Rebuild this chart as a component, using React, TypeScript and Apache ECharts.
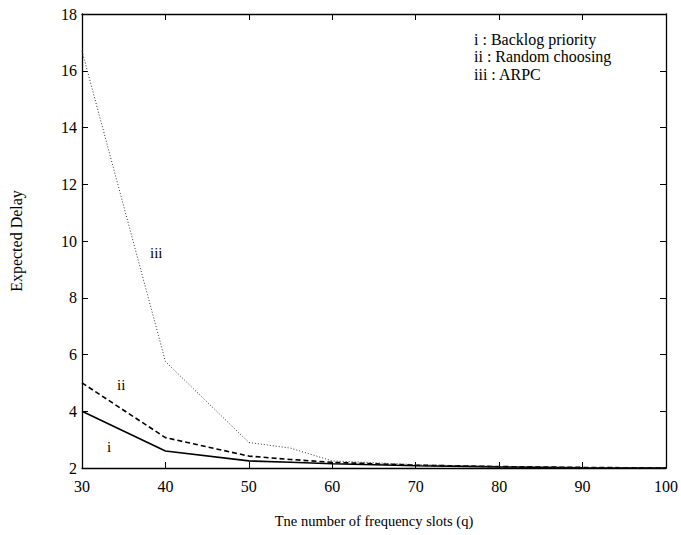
import React, { useEffect, useRef } from "react";
import * as echarts from "echarts";

const slots = [30, 40, 50, 55, 60, 70, 80, 90, 100];
const backlogPriority = [4.0, 2.6, 2.25, 2.2, 2.15, 2.08, 2.04, 2.01, 2.0];
const randomChoosing = [5.0, 3.07, 2.42, 2.3, 2.2, 2.1, 2.05, 2.02, 2.0];
const arpc = [16.7, 5.75, 2.9, 2.7, 2.25, 2.12, 2.05, 2.02, 2.0];
const legendLines = ["i : Backlog priority", "ii : Random choosing", "iii : ARPC"];

const FONT = "Liberation Serif";

export default function App() {
  const ref = useRef<HTMLDivElement>(null);
  useEffect(() => {
    if (!ref.current) return;
    const chart = echarts.init(ref.current, undefined, { renderer: "svg" });
    const mk = (v: number[]) => slots.map((x, i) => [x, v[i]]);
    const axisCommon = {
      axisLine: { show: true, lineStyle: { color: "#000", width: 1.3 } },
      axisTick: { show: true, inside: true, length: 6, lineStyle: { color: "#000" } },
      splitLine: { show: false },
    };
    chart.setOption({
      animation: false,
      backgroundColor: "#fff",
      textStyle: { fontFamily: FONT },
      grid: { left: 82, right: 13, top: 14, bottom: 67 },
      xAxis: [
        {
          type: "value",
          min: 30,
          max: 100,
          interval: 10,
          ...axisCommon,
          axisLabel: { color: "#000", fontSize: 16, fontFamily: FONT, margin: 10 },
          name: "Tne number of frequency slots (q)",
          nameLocation: "middle",
          nameGap: 45,
          nameTextStyle: { color: "#000", fontSize: 14.5, fontFamily: FONT },
        },
        {
          type: "value",
          position: "top",
          min: 30,
          max: 100,
          interval: 10,
          ...axisCommon,
          axisLabel: { show: false },
        },
      ],
      yAxis: [
        {
          type: "value",
          min: 2,
          max: 18,
          interval: 2,
          ...axisCommon,
          axisLabel: { color: "#000", fontSize: 16, fontFamily: FONT, margin: 5 },
          name: "Expected Delay",
          nameLocation: "middle",
          nameGap: 58,
          nameTextStyle: { color: "#000", fontSize: 16, fontFamily: FONT },
        },
        {
          type: "value",
          position: "right",
          min: 2,
          max: 18,
          interval: 2,
          ...axisCommon,
          axisLabel: { show: false },
        },
      ],
      series: [
        {
          name: "i",
          type: "line",
          data: mk(backlogPriority),
          symbol: "none",
          lineStyle: { color: "#000", width: 1.6, type: "solid" },
        },
        {
          name: "ii",
          type: "line",
          data: mk(randomChoosing),
          symbol: "none",
          lineStyle: { color: "#000", width: 1.6, type: [5, 3] },
        },
        {
          name: "iii",
          type: "line",
          data: mk(arpc),
          symbol: "none",
          lineStyle: { color: "#333", width: 1, type: [1, 2] },
        },
      ],
      graphic: [
        ...legendLines.map((t, i) => ({
          type: "text",
          left: 474,
          top: 31 + i * 17.5,
          style: { text: t, fill: "#000", font: `16px "${FONT}"` },
        })),
        { type: "text", left: 150, top: 245, style: { text: "iii", fill: "#000", font: `15px "${FONT}"` } },
        { type: "text", left: 117, top: 377, style: { text: "ii", fill: "#000", font: `15px "${FONT}"` } },
        { type: "text", left: 107, top: 439, style: { text: "i", fill: "#000", font: `15px "${FONT}"` } },
      ],
    });
    return () => chart.dispose();
  }, []);
  return <div ref={ref} style={{ width: 681, height: 535, position: "absolute", left: 0, top: 0 }} />;
}
